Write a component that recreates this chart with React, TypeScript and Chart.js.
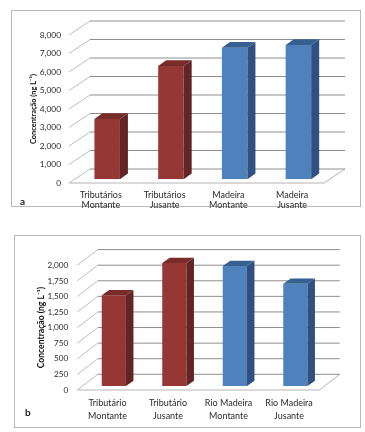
import React, { useEffect, useRef } from "react";
import { Chart, registerables } from "chart.js";

Chart.register(...registerables);

const categoriesA = [["Tributários", "Montante"], ["Tributários", "Jusante"], ["Madeira", "Montante"], ["Madeira", "Jusante"]];
const valuesA = [3260, 6125, 7115, 7260];
const categoriesB = [["Tributário", "Montante"], ["Tributário", "Jusante"], ["Rio Madeira", "Montante"], ["Rio Madeira", "Jusante"]];
const valuesB = [1455, 1973, 1925, 1641];
const axisTitle = "Concentração (ng L⁻¹)";

const FONT = "Lato, 'Open Sans', sans-serif";
const TEXT = "#2a2a2a";
const PALETTE = {
  red: { front: "#953735", side: "#632523", top: "#772c2a" },
  blue: { front: "#4f81bd", side: "#2f5080", top: "#366092" },
};
const barColors = [PALETTE.red, PALETTE.red, PALETTE.blue, PALETTE.blue];

type Cfg = {
  labels: string[][];
  values: number[];
  max: number;
  step: number;
  tag: string;
  tagX: number;
  tagY: number;
  box: { left: number; right: number; top: number; bottom: number };
  wall: { dx: number; dy: number };
  plane: { dx: number; dy: number };
  depth: { dx: number; dy: number };
  titleSize: number;
  titlePad: number;
  tickSize: number;
  catSize: number;
  catLine: number;
  catPad: number;
  labelGap: number;
};

function chart3d(cfg: Cfg) {
  return {
    id: "chart3d",
    beforeDatasetsDraw(chart: any) {
      const { ctx, chartArea: a, scales } = chart;
      const y = scales.y;
      const { dx, dy } = cfg.wall;
      ctx.save();
      // floor
      ctx.strokeStyle = "#b4b4b4";
      ctx.lineWidth = 1;
      ctx.beginPath();
      ctx.moveTo(a.right, a.bottom);
      ctx.lineTo(a.right + dx, a.bottom + dy);
      ctx.moveTo(a.left, a.bottom);
      ctx.lineTo(a.right, a.bottom);
      ctx.stroke();
      // side wall diagonals and back wall lines
      y.ticks.forEach((t: any) => {
        const py = y.getPixelForValue(t.value);
        ctx.strokeStyle = "#bcbcbc";
        ctx.beginPath();
        ctx.moveTo(a.left, py);
        ctx.lineTo(a.left + dx, py + dy);
        ctx.stroke();
        ctx.strokeStyle = "#8e8e8e";
        ctx.beginPath();
        ctx.moveTo(a.left + dx, py + dy);
        ctx.lineTo(a.right + dx, py + dy);
        ctx.stroke();
      });
      ctx.restore();
      // bar plane sits between the front edge and the back wall
      ctx.save();
      ctx.translate(cfg.plane.dx, cfg.plane.dy);
    },
    afterDatasetsDraw(chart: any) {
      const { ctx } = chart;
      const { dx, dy } = cfg.depth;
      chart.getDatasetMeta(0).data.forEach((bar: any, i: number) => {
        const left = bar.x - bar.width / 2;
        const right = bar.x + bar.width / 2;
        const c = barColors[i];
        ctx.fillStyle = c.side;
        ctx.beginPath();
        ctx.moveTo(right, bar.y);
        ctx.lineTo(right + dx, bar.y + dy);
        ctx.lineTo(right + dx, bar.base + dy);
        ctx.lineTo(right, bar.base);
        ctx.closePath();
        ctx.fill();
        ctx.fillStyle = c.top;
        ctx.beginPath();
        ctx.moveTo(left, bar.y);
        ctx.lineTo(left + dx, bar.y + dy);
        ctx.lineTo(right + dx, bar.y + dy);
        ctx.lineTo(right, bar.y);
        ctx.closePath();
        ctx.fill();
      });
      ctx.restore();
    },
    afterDraw(chart: any) {
      const { ctx } = chart;
      ctx.save();
      ctx.fillStyle = "#1a1a1a";
      ctx.font = `bold 10px ${FONT}`;
      ctx.textAlign = "left";
      ctx.textBaseline = "middle";
      ctx.fillText(cfg.tag, cfg.tagX, cfg.tagY);
      ctx.restore();
    },
  };
}

function Panel({ cfg, style }: { cfg: Cfg; style: React.CSSProperties }) {
  const ref = useRef<HTMLCanvasElement>(null);
  useEffect(() => {
    const b = cfg.box;
    const chart = new Chart(ref.current as HTMLCanvasElement, {
      type: "bar",
      data: {
        labels: cfg.labels as any,
        datasets: [
          {
            data: cfg.values,
            backgroundColor: barColors.map((c) => c.front),
            borderWidth: 0,
            barPercentage: 0.4,
            categoryPercentage: 1,
          },
        ],
      },
      options: {
        animation: false,
        responsive: false,
        locale: "en-US",
        layout: {
          autoPadding: false,
          padding: { left: 0, top: b.top, right: 365 - b.right, bottom: 0 },
        },
        plugins: { legend: { display: false }, tooltip: { enabled: false } },
        scales: {
          x: {
            grid: { display: false, tickLength: 0 },
            border: { display: false },
            afterFit: (s: any) => {
              s.height = 216 - b.bottom;
            },
            ticks: {
              color: TEXT,
              maxRotation: 0,
              autoSkip: false,
              padding: cfg.catPad,
              font: { family: FONT, size: cfg.catSize, lineHeight: cfg.catLine },
            },
          },
          y: {
            min: 0,
            max: cfg.max,
            grid: { display: false, tickLength: 0 },
            border: { display: false },
            afterFit: (s: any) => {
              s.width = b.left;
            },
            ticks: {
              stepSize: cfg.step,
              color: TEXT,
              padding: cfg.labelGap,
              font: { family: FONT, size: cfg.tickSize },
            },
            title: {
              display: true,
              text: axisTitle,
              color: "#111",
              padding: { top: cfg.titlePad, bottom: 0 },
              font: { family: FONT, size: cfg.titleSize, weight: "bold" },
            },
          },
        },
      } as any,
      plugins: [chart3d(cfg)],
    });
    return () => chart.destroy();
  }, [cfg]);
  return (
    <canvas
      ref={ref}
      width={365}
      height={216}
      style={{ position: "absolute", left: 0, display: "block", width: 365, height: 216, filter: "blur(0.4px)", ...style }}
    />
  );
}

const cfgA: Cfg = {
  labels: categoriesA,
  values: valuesA,
  max: 8000,
  step: 1000,
  tag: "a",
  tagX: 20,
  tagY: 202,
  box: { left: 69, right: 324, top: 35, bottom: 183 },
  wall: { dx: 21, dy: -14 },
  plane: { dx: 6.3, dy: -3.7 },
  depth: { dx: 8, dy: -5.7 },
  titleSize: 7.4,
  titlePad: 29,
  tickSize: 8.4,
  catSize: 9,
  catLine: 1.1,
  catPad: 7,
  labelGap: 8,
};

const cfgB: Cfg = {
  labels: categoriesB,
  values: valuesB,
  max: 2000,
  step: 250,
  tag: "b",
  tagX: 25,
  tagY: 197,
  box: { left: 77.3, right: 319.3, top: 49.3, bottom: 174 },
  wall: { dx: 20.5, dy: -15.7 },
  plane: { dx: 6.3, dy: -4 },
  depth: { dx: 7.5, dy: -5.3 },
  titleSize: 8.6,
  titlePad: 36,
  tickSize: 8.2,
  catSize: 9,
  catLine: 1.4,
  catPad: 7,
  labelGap: 9,
};

const frame = (left: number, top: number, right: number, bottom: number): React.CSSProperties => ({
  position: "absolute",
  left,
  top,
  width: right - left,
  height: bottom - top,
  border: "1px solid #b9b9b9",
  boxSizing: "border-box",
  background: "#fff",
});

export default function App() {
  return (
    <div style={{ position: "absolute", left: 0, top: 0, width: 365, height: 432, background: "#fff", overflow: "hidden" }}>
      <div style={frame(11, 10, 361, 207)} />
      <div style={frame(14, 235, 361, 428)} />
      <Panel cfg={cfgA} style={{ top: 0 }} />
      <Panel cfg={cfgB} style={{ top: 216 }} />
    </div>
  );
}
